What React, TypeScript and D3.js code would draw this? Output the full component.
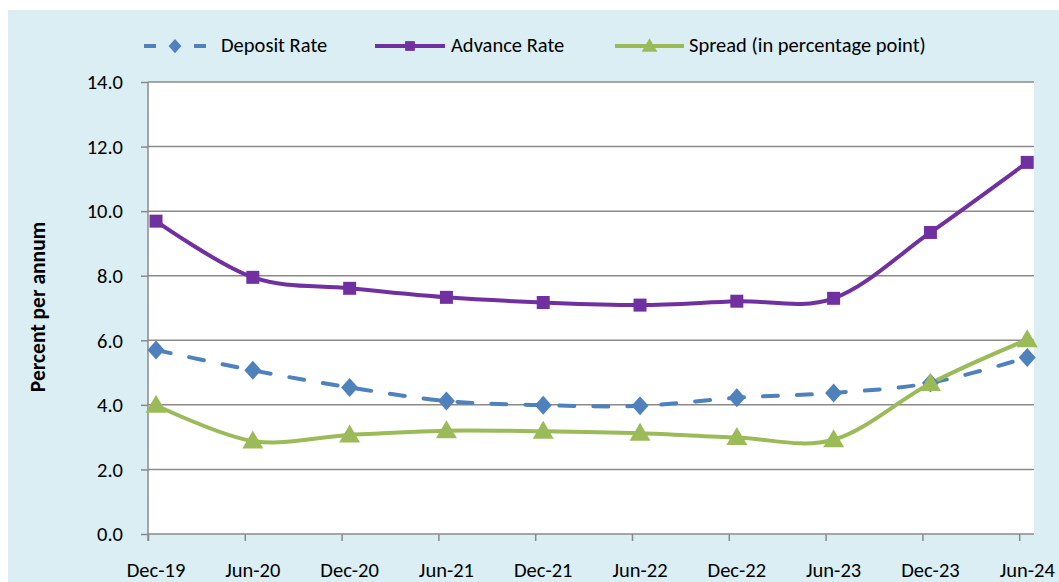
import React, { useEffect, useRef } from 'react';
import * as d3 from 'd3';

const periods = ['Dec-19', 'Jun-20', 'Dec-20', 'Jun-21', 'Dec-21', 'Jun-22', 'Dec-22', 'Jun-23', 'Dec-23', 'Jun-24'];
const depositRate = [5.70, 5.07, 4.54, 4.12, 3.99, 3.97, 4.22, 4.37, 4.68, 5.47];
const advanceRate = [9.69, 7.95, 7.61, 7.33, 7.17, 7.09, 7.21, 7.30, 9.34, 11.51];
const spread = [3.99, 2.88, 3.07, 3.20, 3.18, 3.12, 2.99, 2.92, 4.66, 6.02];
const yTicks = [0, 2, 4, 6, 8, 10, 12, 14];

const FONT = 'Carlito, Calibri, "Open Sans", sans-serif';
const FS = 20.5;

const App: React.FC = () => {
  const ref = useRef<SVGSVGElement | null>(null);

  useEffect(() => {
    if (ref.current) draw();
  }, []);

  const draw = () => {
    const svg = d3.select(ref.current);
    svg.selectAll('*').remove();

    const left = 148, right = 1034, top = 82, bottom = 534;

    // category axis behaves like a date axis: ticks sit a bit before each point
    const x = d3.scaleLinear().domain([-0.083, 9.07]).range([left, right]);
    const y = d3.scaleLinear().domain([0, 14]).range([bottom, top]);

    svg.append('rect').attr('x', 8).attr('y', 10).attr('width', 1059).attr('height', 582).attr('fill', '#DAEEF3');
    svg.append('rect').attr('x', left).attr('y', top).attr('width', right - left).attr('height', bottom - top).attr('fill', '#ffffff');

    // gridlines
    svg.append('g').selectAll('line')
      .data(yTicks.filter(d => d > 0))
      .enter().append('line')
      .attr('x1', left).attr('x2', right)
      .attr('y1', d => y(d)).attr('y2', d => y(d))
      .attr('stroke', '#8a8a8a').attr('stroke-width', 1.5);

    // y axis
    const yAxis = svg.append('g')
      .attr('transform', `translate(${left},0)`)
      .call(d3.axisLeft(y).tickValues(yTicks).tickFormat(d3.format('.1f')).tickSize(7));
    yAxis.select('.domain').attr('stroke', '#8a8a8a').attr('stroke-width', 1.5)
      .attr('d', `M0,${top}V${bottom + 7}`);
    yAxis.selectAll('line').attr('stroke', '#8a8a8a').attr('stroke-width', 1.5);
    yAxis.selectAll('text').attr('font-family', FONT).attr('font-size', FS).attr('fill', '#000')
      .attr('dy', '0.33em').attr('x', -25);

    // x axis
    const xAxis = svg.append('g')
      .attr('transform', `translate(0,${bottom})`)
      .call(d3.axisBottom(x).tickValues(d3.range(periods.length).map(i => i - 0.083)).tickSize(7).tickFormat(() => ''));
    xAxis.select('.domain').attr('stroke', '#8a8a8a').attr('stroke-width', 1.5)
      .attr('d', `M${left},0H${right}`);
    xAxis.selectAll('line').attr('stroke', '#8a8a8a').attr('stroke-width', 1.5);

    svg.append('g').selectAll('text')
      .data(periods)
      .enter().append('text')
      .attr('x', (d, i) => x(i))
      .attr('y', 577)
      .attr('text-anchor', 'middle')
      .attr('font-family', FONT).attr('font-size', FS)
      .text(d => d);

    svg.append('text')
      .attr('transform', `translate(45,307) rotate(-90)`)
      .attr('text-anchor', 'middle')
      .attr('font-family', FONT).attr('font-size', 21.5).attr('font-weight', 'bold')
      .text('Percent per annum');

    const line = d3.line<number>()
      .x((d, i) => x(i))
      .y(d => y(d))
      .curve(d3.curveCardinal.tension(0));

    const series = [
      { name: 'Deposit Rate', values: depositRate, color: '#4F81BD', dash: '15,19', marker: 'diamond' },
      { name: 'Advance Rate', values: advanceRate, color: '#7030A0', dash: null, marker: 'square' },
      { name: 'Spread (in percentage point)', values: spread, color: '#9BBB59', dash: null, marker: 'triangle' },
    ];

    const markerPath = (m: string) => {
      if (m === 'diamond') return 'M0,-9.5L8.5,0L0,9.5L-8.5,0Z';
      if (m === 'square') return 'M-6.5,-6.5H6.5V6.5H-6.5Z';
      return 'M0,-10.5L10.5,7.5H-10.5Z';
    };

    series.forEach(s => {
      svg.append('path')
        .datum(s.values)
        .attr('d', line)
        .attr('fill', 'none')
        .attr('stroke', s.color)
        .attr('stroke-width', 4)
        .attr('stroke-linecap', s.dash ? 'round' : 'butt')
        .attr('stroke-dasharray', s.dash);
    });

    series.forEach(s => {
      svg.append('g').selectAll('path')
        .data(s.values)
        .enter().append('path')
        .attr('transform', (d, i) => `translate(${x(i)},${y(d)})`)
        .attr('d', markerPath(s.marker))
        .attr('fill', s.color);
    });

    // legend
    const legendItems = [
      { x0: 144, x1: 206, tx: 221 },
      { x0: 375, x1: 445, tx: 451 },
      { x0: 615, x1: 684, tx: 689 },
    ];
    const ly = 46;
    series.forEach((s, i) => {
      const li = legendItems[i];
      const g = svg.append('g');
      if (s.dash) {
        g.append('line').attr('x1', li.x0).attr('x2', li.x0 + 12).attr('y1', ly).attr('y2', ly)
          .attr('stroke', s.color).attr('stroke-width', 4);
        g.append('line').attr('x1', li.x1 - 12).attr('x2', li.x1).attr('y1', ly).attr('y2', ly)
          .attr('stroke', s.color).attr('stroke-width', 4);
      } else {
        g.append('line').attr('x1', li.x0).attr('x2', li.x1).attr('y1', ly).attr('y2', ly)
          .attr('stroke', s.color).attr('stroke-width', 4);
      }
      g.append('path')
        .attr('transform', `translate(${(li.x0 + li.x1) / 2},${ly}) scale(0.75)`)
        .attr('d', markerPath(s.marker))
        .attr('fill', s.color);
      g.append('text')
        .attr('x', li.tx).attr('y', 52)
        .attr('font-family', FONT).attr('font-size', FS)
        .text(s.name);
    });
  };

  return (
    <svg ref={ref} width={1059} height={582} style={{ position: 'absolute', left: 0, top: 0 }}></svg>
  );
};

export default App;
